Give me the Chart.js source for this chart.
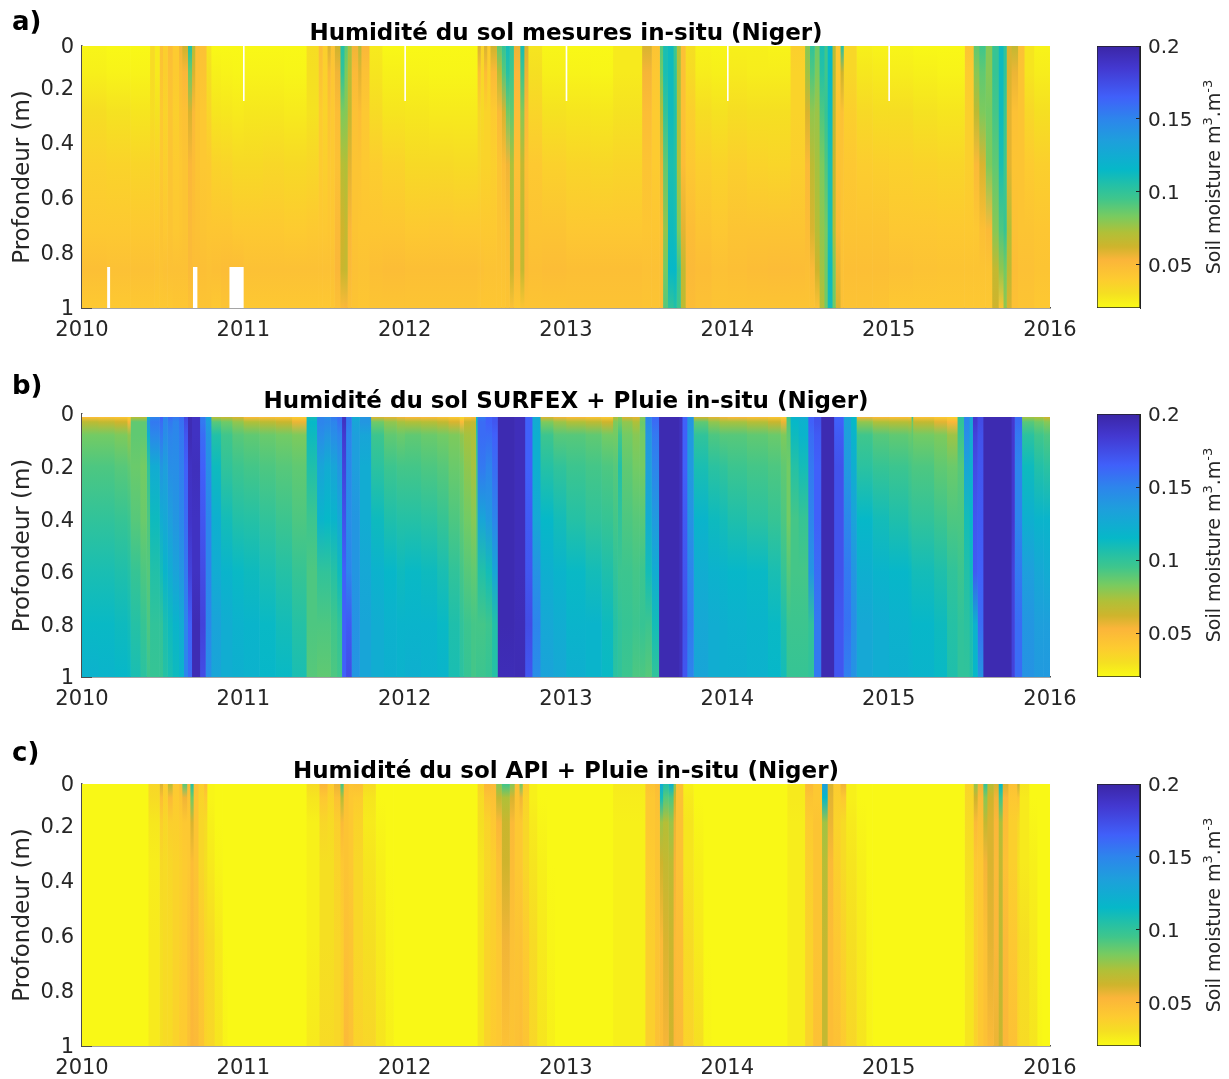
<!DOCTYPE html>
<html lang="fr">
<head>
<meta charset="utf-8">
<title>Humidité du sol (Niger)</title>
<script src="https://cdn.jsdelivr.net/npm/chart.js@4/dist/chart.umd.js"></script>
<style>
  body { margin: 0; background: #fff; font-family: "DejaVu Sans", sans-serif; color: #262626; }
  #page { position: relative; width: 1229px; height: 1079px; overflow: hidden; }
  canvas { position: absolute; }
  .tag { position: absolute; left: 12px; font-size: 26px; font-weight: bold; color: #000; line-height: 1; }
  .cblabel { position: absolute; left: 1213px; font-size: 19px; white-space: nowrap; line-height: 1;
             transform: translate(-50%, -50%) rotate(-90deg); }
  .cblabel sup { font-size: 13px; line-height: 0; }
</style>
</head>
<body>
<div id="page"></div>
<script>
const years = [2010, 2011, 2012, 2013, 2014, 2015, 2016]
// panels a and c start a little below the surface although the top tick reads 0
const depthTicksAC = [0.05, 0.2, 0.4, 0.6, 0.8, 1]
const depthTicksB = [0, 0.2, 0.4, 0.6, 0.8, 1]
const depthLabels = ['0', '0.2', '0.4', '0.6', '0.8', '1']
const colorbarTicks = [0.05, 0.1, 0.15, 0.2]

// moisture values are in 0.001 m3/m3. Each row: band start (year), then one value per depth
const depthsA = [0.05, 0.145, 0.29, 0.48, 0.715, 0.86, 1]
const soilA = [
  [2010.00,22,24,31,37,41,47,41],[2010.15,21,23,29,36,41,46,41],[2010.30,21,23,28,35,41,46,42],
  [2010.42,32,32,31,37,42,46,42],[2010.45,26,26,29,36,41,45,41],[2010.48,46,44,42,42,44,45,42],
  [2010.50,38,38,36,38,42,46,42],[2010.53,48,46,44,44,44,46,42],[2010.56,40,40,38,40,42,46,43],
  [2010.60,55,48,44,42,43,46,43],[2010.62,62,52,46,44,44,46,43],[2010.655,105,85,60,52,50,50,46],
  [2010.68,70,60,50,48,47,48,44],[2010.70,48,46,44,44,46,48,44],[2010.73,46,44,42,42,44,47,44],
  [2010.77,28,30,35,41,43,46,44],[2010.80,21,24,28,36,43,47,42],[2010.86,21,23,27,35,43,48,44],
  [2010.93,21,22,26,33,41,48,43],
  [2011.00,21,23,27,33,41,46,42],[2011.12,21,23,27,34,41,46,42],[2011.25,21,22,26,33,40,46,42],
  [2011.39,31,30,29,34,41,46,42],[2011.465,48,45,40,40,42,46,42],[2011.49,38,37,36,38,42,46,42],
  [2011.52,60,50,44,42,43,46,42],[2011.54,45,43,41,41,43,46,43],[2011.565,62,55,48,46,50,52,46],
  [2011.60,105,100,82,70,62,64,50],[2011.625,88,82,80,72,66,66,52],[2011.645,74,70,66,58,52,50,46],
  [2011.67,55,50,46,44,44,46,44],[2011.71,70,58,48,44,43,45,43],[2011.73,52,46,42,41,43,45,43],
  [2011.78,26,28,32,39,43,47,44],[2011.86,21,24,28,36,43,48,44],
  [2012.00,21,23,27,33,41,47,44],[2012.15,21,22,26,33,42,47,44],[2012.30,21,22,26,32,41,47,44],
  [2012.45,60,46,34,34,41,46,43],[2012.47,36,34,33,36,41,46,43],[2012.49,60,48,36,36,41,45,43],
  [2012.51,40,38,36,36,41,45,43],[2012.53,62,50,40,38,41,45,43],[2012.57,88,70,50,44,44,45,43],
  [2012.60,98,90,60,48,44,45,43],[2012.625,110,104,85,55,47,46,44],[2012.65,100,95,88,72,68,64,46],
  [2012.675,56,52,48,46,50,50,42],[2012.715,110,96,80,66,68,66,44],[2012.74,60,56,50,46,50,50,44],
  [2012.765,28,30,35,41,44,47,44],[2012.85,22,24,29,37,44,48,44],
  [2013.00,21,23,28,35,42,47,45],[2013.15,21,22,27,34,42,47,45],[2013.29,26,26,29,35,42,47,45],
  [2013.47,60,54,48,44,43,46,44],[2013.53,44,42,40,40,43,46,44],[2013.58,90,85,70,56,48,48,48],
  [2013.60,108,108,100,88,78,84,90],[2013.63,112,112,112,108,112,115,100],[2013.665,95,100,105,105,110,115,105],
  [2013.685,72,72,72,72,82,96,95],[2013.71,46,46,46,48,58,66,68],[2013.74,30,32,38,42,48,50,48],
  [2013.80,23,25,31,38,44,48,46],[2013.90,22,24,29,36,42,46,44],
  [2014.00,24,26,31,38,44,47,44],[2014.12,24,25,30,36,44,48,44],[2014.25,23,25,30,35,44,49,44],
  [2014.39,38,36,36,38,44,48,44],[2014.48,80,75,60,50,48,47,44],[2014.51,100,92,78,68,60,50,44],
  [2014.54,85,82,76,74,70,62,46],[2014.57,108,104,92,82,78,75,70],[2014.60,95,95,98,92,84,85,85],
  [2014.62,115,115,112,108,108,112,110],[2014.65,70,68,66,64,70,82,85],[2014.67,42,42,44,46,50,56,60],
  [2014.70,105,62,46,44,44,46,46],[2014.72,34,34,38,42,44,47,45],[2014.80,24,27,33,39,44,47,45],
  [2014.90,23,26,31,38,44,47,44],
  [2015.00,22,25,31,37,42,46,42],[2015.15,21,24,29,36,42,45,42],[2015.30,21,23,28,35,41,44,42],
  [2015.47,44,40,38,38,41,44,42],[2015.525,88,80,68,50,42,44,42],[2015.56,95,88,82,60,47,44,42],
  [2015.60,80,80,84,82,50,44,42],[2015.64,98,98,94,88,80,66,62],[2015.68,112,112,112,108,92,78,44],
  [2015.71,100,100,96,95,98,85,78],[2015.73,60,60,58,58,72,68,60],[2015.76,66,56,46,44,46,48,46],
  [2015.80,46,44,44,44,44,46,44],[2015.84,28,28,34,40,44,46,44],[2015.90,23,25,30,38,43,44,42]
]
// missing measurements: start, end (year), top, bottom (m)
const gapsA = [
  [2010.158,2010.172,0.85,1],[2010.69,2010.713,0.85,1],[2010.916,2011,0.85,1],
  [2011,2011.006,0,0.25],[2012,2012.006,0,0.25],[2013,2013.006,0,0.25],
  [2014,2014.006,0,0.25],[2015,2015.006,0,0.25]
]

const depthsB = [0.012, 0.03, 0.08, 0.2, 0.4, 0.6, 0.8, 1]
const soilB = [
  [2010.00,48,68,84,92,100,108,114,120],[2010.10,46,66,84,92,100,108,114,118],[2010.20,44,62,82,90,98,106,112,116],
  [2010.28,38,52,78,88,96,104,110,114],[2010.30,70,88,88,86,90,98,104,108],[2010.36,68,88,88,84,86,92,98,102],
  [2010.40,120,140,122,100,92,90,92,96],[2010.42,150,155,148,125,112,105,100,98],[2010.48,165,160,155,140,125,110,100,98],
  [2010.50,150,148,145,135,128,118,108,104],[2010.53,160,155,150,145,135,125,112,108],[2010.56,155,150,148,145,140,132,118,112],
  [2010.60,160,158,155,152,148,140,125,118],[2010.63,178,175,170,165,160,155,150,150],[2010.655,195,195,195,190,188,180,165,160],
  [2010.68,190,190,190,192,190,190,195,195],[2010.73,155,155,160,165,170,175,180,175],[2010.765,130,135,140,145,150,150,148,145],
  [2010.80,70,90,105,112,122,125,132,130],[2010.86,65,85,95,100,110,118,124,124],[2010.93,60,78,90,96,105,114,120,122],
  [2011.00,50,72,88,94,104,112,118,120],[2011.10,48,68,86,92,100,108,114,116],[2011.20,46,64,84,90,96,104,110,114],
  [2011.30,40,56,82,88,92,98,104,108],[2011.39,110,115,112,106,96,92,92,90],[2011.455,150,150,145,130,118,100,92,88],
  [2011.50,145,148,140,125,115,100,92,88],[2011.54,155,150,145,130,118,104,95,92],[2011.58,160,158,150,140,128,112,100,95],
  [2011.61,190,190,185,180,172,165,165,165],[2011.635,155,155,150,148,145,150,168,175],[2011.67,125,130,135,135,140,140,142,140],
  [2011.72,140,140,130,125,125,128,130,130],[2011.79,60,85,96,102,112,120,124,124],[2011.87,58,78,88,96,106,116,120,122],
  [2011.95,55,74,86,94,104,112,118,120],
  [2012.00,52,72,88,94,104,114,118,122],[2012.10,50,70,86,92,102,112,118,120],[2012.20,46,66,84,90,98,108,114,118],
  [2012.27,42,60,82,86,92,100,106,108],[2012.34,34,50,78,84,88,94,100,102],[2012.365,44,64,74,78,84,90,96,98],
  [2012.41,50,66,72,74,80,88,94,94],[2012.44,110,110,100,92,88,90,94,96],[2012.45,155,160,160,155,130,105,94,96],
  [2012.50,165,165,160,150,138,110,96,98],[2012.54,170,170,165,160,150,130,105,104],[2012.575,196,196,196,196,196,196,196,194],
  [2012.68,193,193,193,193,193,193,194,195],[2012.745,165,165,165,165,168,170,175,170],[2012.79,125,125,122,122,128,142,150,145],
  [2012.84,60,82,96,104,115,122,128,132],[2012.92,55,76,90,100,110,118,124,128],
  [2013.00,50,72,90,96,104,114,118,122],[2013.12,46,68,88,94,100,110,118,118],[2013.22,42,62,84,92,98,106,112,114],
  [2013.29,70,82,84,90,94,100,104,102],[2013.32,80,85,95,105,100,96,100,100],[2013.345,60,78,84,88,92,96,98,96],
  [2013.41,58,72,80,84,90,94,96,92],[2013.455,80,86,84,84,90,96,98,92],[2013.49,150,148,140,135,125,110,96,90],
  [2013.53,162,160,155,150,138,125,110,100],[2013.575,196,196,196,196,196,196,196,196],[2013.70,192,192,192,192,192,192,192,192],
  [2013.72,165,165,165,165,168,170,172,170],[2013.75,140,140,138,138,142,150,155,150],[2013.79,62,88,100,108,118,124,128,130],
  [2013.88,58,78,92,102,112,120,124,124],[2013.95,55,74,90,100,110,118,122,122],
  [2014.00,52,74,90,96,106,116,120,122],[2014.12,48,70,88,94,102,114,118,120],[2014.25,44,64,86,92,98,108,114,116],
  [2014.33,40,56,82,88,92,98,106,110],[2014.365,96,92,88,84,84,90,96,98],[2014.39,118,115,112,104,94,94,96,98],
  [2014.44,125,120,118,110,98,94,96,98],[2014.50,165,165,160,155,150,140,100,100],[2014.535,172,172,168,165,165,160,155,155],
  [2014.58,196,196,196,196,196,196,196,196],[2014.66,165,165,168,172,172,172,170,170],[2014.72,130,132,135,138,148,155,158,152],
  [2014.765,115,115,118,122,132,140,145,142],[2014.80,55,78,95,102,115,122,128,128],[2014.90,50,72,90,98,110,118,124,124],
  [2015.00,48,70,88,96,106,116,120,122],[2015.12,46,68,86,94,102,114,118,120],[2015.14,100,85,88,92,100,110,116,120],
  [2015.15,46,66,84,92,100,110,116,118],[2015.28,42,58,82,88,96,106,112,114],[2015.36,38,52,76,86,92,100,104,106],
  [2015.425,100,100,96,90,92,96,100,100],[2015.465,150,150,145,130,110,105,102,100],[2015.50,130,128,125,120,115,112,108,105],
  [2015.52,185,185,180,175,170,168,120,115],[2015.55,175,175,172,170,168,165,160,140],[2015.585,196,196,196,196,196,196,196,196],
  [2015.76,185,185,185,185,185,180,180,180],[2015.78,160,160,155,150,150,155,160,160],[2015.825,75,90,102,112,122,135,140,142],
  [2015.90,72,85,95,105,118,128,135,138],[2015.96,62,80,92,102,118,125,135,138]
]

const depthsC = [0.05, 0.1, 0.19, 0.335, 0.62, 1]
const soilC = [
  [2010.00,21,21,21,21,21,21],[2010.41,34,32,27,25,26,26],[2010.48,60,48,38,33,30,30],[2010.50,40,38,34,32,32,32],
  [2010.53,70,50,38,34,32,32],[2010.56,42,40,38,36,36,36],[2010.60,48,44,40,38,38,40],[2010.62,90,55,42,40,40,40],
  [2010.65,50,45,42,42,44,46],[2010.67,105,85,60,48,50,52],[2010.69,46,44,44,44,46,50],[2010.72,38,36,34,34,40,44],
  [2010.755,48,40,32,30,34,36],[2010.775,22,22,24,26,32,34],[2010.82,21,21,21,22,26,28],[2010.87,21,21,21,21,21,23],
  [2010.90,21,21,21,21,21,21],
  [2011.39,32,28,24,24,24,26],[2011.47,52,42,34,30,30,32],[2011.52,40,36,32,30,30,32],[2011.56,56,46,38,36,34,34],
  [2011.60,95,70,50,42,38,38],[2011.62,48,46,44,44,46,50],[2011.65,44,42,42,42,44,46],[2011.68,46,40,36,34,34,36],
  [2011.74,32,28,26,28,30,34],[2011.82,21,21,22,24,26,28],[2011.88,21,21,21,21,22,24],[2011.93,21,21,21,21,21,21],
  [2012.45,36,32,30,28,28,28],[2012.49,52,44,36,34,36,36],[2012.53,50,46,42,38,38,40],[2012.565,80,66,52,46,42,42],
  [2012.60,95,72,64,62,55,46],[2012.65,80,60,50,48,46,44],[2012.68,46,44,42,42,44,46],[2012.71,85,55,42,42,46,48],
  [2012.73,40,36,34,34,40,44],[2012.77,24,24,26,28,32,34],[2012.82,21,21,22,24,26,28],[2012.88,21,21,21,21,22,24],
  [2012.93,21,21,21,21,21,21],
  [2013.29,26,25,24,24,24,24],[2013.49,44,42,42,40,38,38],[2013.55,48,46,44,44,44,46],[2013.58,125,110,75,62,50,48],
  [2013.60,105,90,70,66,60,54],[2013.635,120,92,76,68,64,62],[2013.665,80,62,56,54,50,52],[2013.68,46,46,46,46,48,50],
  [2013.725,24,26,28,28,32,36],[2013.79,21,21,22,24,26,30],[2013.85,21,21,21,21,21,22],[2013.90,21,21,21,21,21,21],
  [2014.37,26,26,25,25,25,25],[2014.48,50,44,40,38,36,36],[2014.53,42,42,44,44,44,46],[2014.585,135,115,75,70,66,66],
  [2014.62,60,58,56,50,48,48],[2014.655,40,38,36,38,42,46],[2014.70,55,42,32,32,36,40],[2014.735,24,24,26,28,30,34],
  [2014.80,21,21,22,24,26,28],[2014.86,21,21,21,21,22,23],[2014.90,21,21,21,21,21,21],
  [2015.47,36,34,32,30,28,28],[2015.525,78,62,50,42,38,36],[2015.55,55,50,46,42,42,42],[2015.585,100,80,66,54,46,46],
  [2015.61,70,62,60,60,58,50],[2015.65,60,55,52,50,52,56],[2015.68,115,95,72,66,68,64],[2015.705,60,52,48,46,50,52],
  [2015.74,46,42,38,38,42,46],[2015.795,65,44,34,30,34,36],[2015.81,28,26,26,26,30,32],[2015.87,21,21,22,24,26,28],
  [2015.92,21,21,21,21,21,22],[2015.95,21,21,21,21,21,21]
]

// colormap (value in 0.001 m3/m3, colour)
const colormap = [
  [20,'#f9fb15'],[30,'#f5df22'],[40,'#fdcb30'],[53,'#fbb53a'],[62,'#cfb42c'],[72,'#b0c038'],[83,'#78cb60'],
  [95,'#3fc68c'],[105,'#22c0a8'],[115,'#06b8c8'],[135,'#1e9fdc'],[150,'#2d85ec'],[165,'#4060fa'],[185,'#4338d0'],[200,'#3b26a6']
]

const FONT = "'DejaVu Sans', sans-serif"
const INK = '#262626'
const AXIS = '#4d4d4d'
const page = document.getElementById('page')

function hexToRgb(h) {
  return [1, 3, 5].map(i => parseInt(h.slice(i, i + 2), 16))
}

function colorOf(v) {
  if (v <= colormap[0][0]) return colormap[0][1]
  for (let i = 1; i < colormap.length; i++) {
    if (v <= colormap[i][0]) {
      const [v0, c0] = colormap[i - 1]
      const [v1, c1] = colormap[i]
      const f = (v - v0) / (v1 - v0)
      const a = hexToRgb(c0), b = hexToRgb(c1)
      return `rgb(${a.map((x, k) => Math.round(x + (b[k] - x) * f)).join(',')})`
    }
  }
  return colormap[colormap.length - 1][1]
}

function depthFrac(chart, d) {
  const a = chart.chartArea
  return Math.min(1, Math.max(0, (chart.scales.depth.getPixelForValue(d) - a.top) / (a.bottom - a.top)))
}

function profileFill(depths, values) {
  return (ctx) => {
    const chart = ctx.chart
    const a = chart.chartArea
    if (!a) return 'transparent'
    const g = chart.ctx.createLinearGradient(0, a.top, 0, a.bottom)
    const first = depthFrac(chart, depths[0])
    if (first > 0) {
      g.addColorStop(0, '#fff')
      g.addColorStop(first, '#fff')
    }
    depths.forEach((d, i) => g.addColorStop(depthFrac(chart, d), colorOf(values[i])))
    return g
  }
}

function gapFill(top, bottom) {
  return (ctx) => {
    const chart = ctx.chart
    const a = chart.chartArea
    if (!a) return 'transparent'
    const g = chart.ctx.createLinearGradient(0, a.top, 0, a.bottom)
    const none = 'rgba(255,255,255,0)'
    const p0 = depthFrac(chart, top), p1 = depthFrac(chart, bottom)
    g.addColorStop(0, p0 > 0 ? none : '#fff')
    g.addColorStop(p0, p0 > 0 ? none : '#fff')
    g.addColorStop(p0, '#fff')
    g.addColorStop(p1, '#fff')
    if (p1 < 1) {
      g.addColorStop(p1, none)
      g.addColorStop(1, none)
    }
    return g
  }
}

function addCanvas(left, top, width, height) {
  const c = document.createElement('canvas')
  c.width = width
  c.height = height
  c.style.left = left + 'px'
  c.style.top = top + 'px'
  page.appendChild(c)
  return c
}

function drawHeatmap(plotTop, plotHeight, title, depths, rows, gaps, depthTicks) {
  const canvas = addCanvas(0, plotTop - 46, 1085, plotHeight + 46 + 33)
  const gapSets = gaps.map(g => ({
    data: [[g[0], g[1]]], backgroundColor: gapFill(g[2], g[3])
  }))
  const bandSets = rows.map((r, i) => ({
    data: [[r[0], i + 1 < rows.length ? rows[i + 1][0] : years[years.length - 1]]],
    backgroundColor: profileFill(depths, r.slice(1))
  }))
  new Chart(canvas, {
    type: 'bar',
    data: { labels: ['sol'], datasets: gapSets.concat(bandSets) },
    options: {
      indexAxis: 'y',
      responsive: false,
      animation: false,
      grouped: false,
      barPercentage: 1,
      categoryPercentage: 1,
      layout: { padding: { right: 35 } },
      plugins: {
        legend: { display: false },
        tooltip: { enabled: false },
        title: {
          display: true, text: title, color: '#000', fullSize: false,
          font: { family: FONT, size: 23, weight: 'bold', lineHeight: 1 },
          padding: { top: 22.5, bottom: 0.5 }
        }
      },
      scales: {
        y: { type: 'category', display: false },
        x: {
          type: 'linear', min: years[0], max: years[years.length - 1],
          afterBuildTicks: (s) => { s.ticks = years.map(v => ({ value: v })) },
          afterFit: (s) => { s.height = 33; s.paddingLeft = 0; s.paddingRight = 0 },
          border: { color: AXIS, width: 1.5 },
          grid: { drawOnChartArea: false, drawTicks: false },
          ticks: {
            color: INK, font: { family: FONT, size: 21 }, padding: 10, maxRotation: 0,
            callback: (v) => String(v)
          }
        },
        depth: {
          axis: 'y', type: 'linear', position: 'left', reverse: true,
          min: depthTicks[0], max: 1, offset: false,
          afterBuildTicks: (s) => { s.ticks = depthTicks.map(v => ({ value: v })) },
          afterFit: (s) => { s.width = 82; s.paddingTop = 0; s.paddingBottom = 0 },
          border: { color: AXIS, width: 1.5 },
          grid: { offset: false, drawOnChartArea: false, tickLength: -10, tickColor: AXIS },
          title: {
            display: true, text: 'Profondeur (m)', color: INK,
            font: { family: FONT, size: 23, lineHeight: 1 }, padding: { top: 12, bottom: 0 }
          },
          ticks: {
            color: INK, font: { family: FONT, size: 21 }, padding: 18, labelOffset: 2,
            callback: (v, i) => depthLabels[i]
          }
        }
      }
    }
  })
}

function drawColorbar(plotTop, plotHeight) {
  const canvas = addCanvas(1090, plotTop - 46, 110, plotHeight + 46 + 33)
  new Chart(canvas, {
    type: 'bar',
    data: {
      labels: ['colorbar'],
      datasets: [{
        data: [[0.02, 0.2]],
        borderColor: '#222',
        borderWidth: 1,
        borderSkipped: false,
        backgroundColor: (ctx) => {
          const a = ctx.chart.chartArea
          if (!a) return 'transparent'
          const y = ctx.chart.scales.y
          const g = ctx.chart.ctx.createLinearGradient(0, a.top, 0, a.bottom)
          colormap.forEach(([v, c]) => g.addColorStop((y.getPixelForValue(v / 1000) - a.top) / (a.bottom - a.top), c))
          return g
        }
      }]
    },
    options: {
      responsive: false,
      animation: false,
      barPercentage: 1,
      categoryPercentage: 1,
      layout: { padding: { left: 7, top: 46, bottom: 33 } },
      plugins: { legend: { display: false }, tooltip: { enabled: false } },
      scales: {
        x: { display: false },
        y: {
          position: 'right', min: 0.02, max: 0.2,
          afterBuildTicks: (s) => { s.ticks = colorbarTicks.map(v => ({ value: v })) },
          afterFit: (s) => { s.width = 60 },
          border: { color: '#222', z: 2 },
          grid: { drawOnChartArea: false, z: 2, tickLength: -4, tickColor: '#222' },
          ticks: {
            color: INK, font: { family: FONT, size: 20 }, padding: 12, labelOffset: 2,
            callback: (v) => String(v)
          }
        }
      }
    }
  })
}

function addText(cls, top, html) {
  const d = document.createElement('div')
  d.className = cls
  d.style.top = top + 'px'
  d.innerHTML = html
  page.appendChild(d)
}

drawHeatmap(46, 262, 'Humidité du sol mesures in-situ (Niger)', depthsA, soilA, gapsA, depthTicksAC)
drawHeatmap(414, 263, 'Humidité du sol SURFEX + Pluie in-situ (Niger)', depthsB, soilB, [], depthTicksB)
drawHeatmap(784, 262, 'Humidité du sol API + Pluie in-situ (Niger)', depthsC, soilC, [], depthTicksAC)

drawColorbar(46, 262)
drawColorbar(414, 263)
drawColorbar(784, 262)

addText('tag', 8, 'a)')
addText('tag', 372, 'b)')
addText('tag', 739, 'c)')

const cbLabel = 'Soil moisture m<sup>3</sup>.m<sup>-3</sup>'
addText('cblabel', 177, cbLabel)
addText('cblabel', 545, cbLabel)
addText('cblabel', 915, cbLabel)
</script>
</body>
</html>
